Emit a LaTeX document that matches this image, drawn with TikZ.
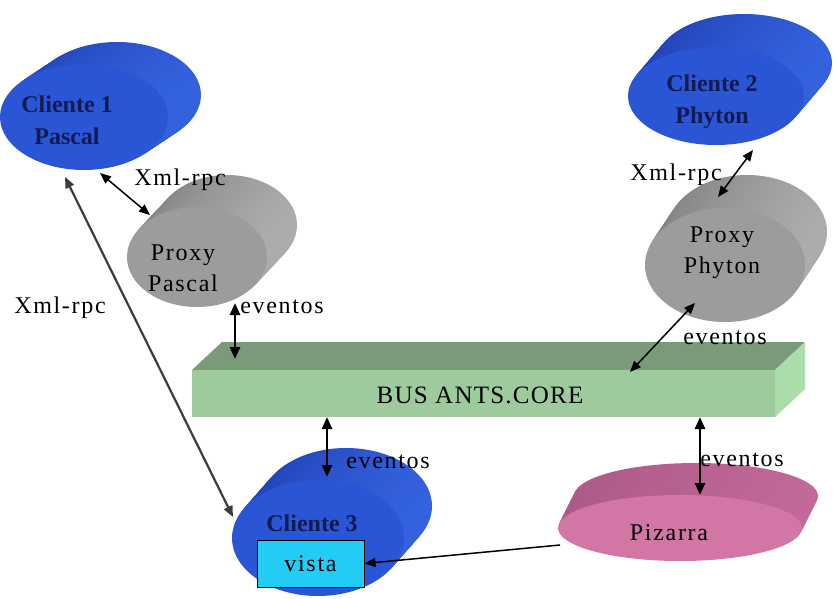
\documentclass[tikz,border=0pt]{standalone}
\usepackage{fontspec}
\setmainfont{Liberation Serif}
\usetikzlibrary{arrows.meta}

\definecolor{bluefront}{HTML}{2A56D6}
\definecolor{blueside}{HTML}{2242B6}
\definecolor{bluelight}{HTML}{3462DE}
\definecolor{grayfront}{HTML}{9C9C9C}
\definecolor{grayside}{HTML}{828282}
\definecolor{graylight}{HTML}{ADADAD}
\definecolor{pinkfront}{HTML}{D276A6}
\definecolor{pinkside}{HTML}{AD5A86}
\definecolor{pinklight}{HTML}{C2699A}
\definecolor{bustop}{HTML}{7A9A7A}
\definecolor{busfront}{HTML}{9DCB9D}
\definecolor{busright}{HTML}{ABDDAB}
\definecolor{vistafill}{HTML}{22CCF5}
\definecolor{navy}{HTML}{121A52}
\definecolor{linkgray}{HTML}{3C3C3C}

% extruded ellipse: centre x, centre y, x radius, y radius, depth dx, depth dy,
% side colour (left), side colour (right), face colour
\newcommand\slab[9]{%
  \foreach \k in {20,19,...,1}{
    \shade[left color=#7, right color=#8]
      ({#1+#5*\k/20},{#2+#6*\k/20}) ellipse [x radius=#3, y radius=#4];
  }
  \fill[#9] (#1,#2) ellipse [x radius=#3, y radius=#4];
}

\begin{document}
\begin{tikzpicture}[x=1pt, y=-1pt,
  link/.style={{Triangle[length=11pt, width=9pt]}-{Triangle[length=11pt, width=9pt]}, line width=1.5pt},
  buslink/.style={{Triangle[length=12pt, width=10pt]}-{Triangle[length=12pt, width=10pt]}, line width=2.6pt},
  lbl/.style={font=\fontsize{24}{31}\selectfont\addfontfeature{LetterSpace=7}, inner sep=0pt, align=center},
  title/.style={font=\fontsize{24}{32}\selectfont\bfseries, text=navy, inner sep=0pt, align=center}]

\useasboundingbox (0,0) rectangle (837,599);
\fill[white] (0,0) rectangle (837,599);

% clients, proxies and the blackboard
\slab{84}{117}{84}{53}{33}{-22}{blueside}{bluelight}{bluefront}
\slab{716}{96}{88}{49}{28}{-33}{blueside}{bluelight}{bluefront}
\slab{197}{257}{70}{50}{30}{-32}{grayside}{graylight}{grayfront}
\slab{725}{265}{80}{57}{22}{-33}{grayside}{graylight}{grayfront}
\slab{318}{538}{86}{58}{28}{-32}{blueside}{bluelight}{bluefront}
\slab{680}{528}{122}{33}{16}{-32}{pinkside}{pinklight}{pinkfront}

% the bus bar
\fill[bustop] (192,370) -- (222,342) -- (805,342) -- (775,370) -- cycle;
\fill[busright] (775,370) -- (805,342) -- (805,389) -- (775,417) -- cycle;
\fill[busfront] (192,370) rectangle (775,417);

% texts
\node[title] (c1) at (67,120) {Cliente 1\\Pascal};
\node[title] (c2) at (712,102) {Cliente 2\\Phyton};
\node[title] (c3) at (312,523) {Cliente 3};
\node[lbl] (pp) at (183,268) {Proxy\\Pascal};
\node[lbl] (pf) at (722,253) {Proxy\\Phyton};
\node[lbl] (pz) at (669,533) {Pizarra};
\node[font=\fontsize{25}{28}\selectfont\addfontfeature{LetterSpace=5}, inner sep=0pt] (bus) at (480,395) {BUS ANTS.CORE};
\node[draw=black, line width=1pt, fill=vistafill, minimum width=107pt, minimum height=47pt,
      lbl] (vista) at (310.5,563.5) {vista};

% connector end points
\coordinate (c1a) at (100,173);
\coordinate (ppa) at (150,215);
\coordinate (c1b) at (65,177);
\coordinate (c3a) at (233,517);
\coordinate (ppb) at (235,303);
\coordinate (busa) at (235,359);
\coordinate (pfb) at (695,303);
\coordinate (busb) at (630,372);
\coordinate (c2a) at (753,150);
\coordinate (pfa) at (718,197);
\coordinate (busc) at (327,417);
\coordinate (c3b) at (327,477);
\coordinate (busd) at (700,417);
\coordinate (pza) at (700,495);
\coordinate (pzb) at (560,545);

% connectors
\draw[link] (c1a) -- (ppa);
\draw[link, linkgray, line width=2.2pt] (c1b) -- (c3a);
\draw[buslink] (ppb) -- (busa);
\draw[link] (pfb) -- (busb);
\draw[link] (c2a) -- (pfa);
\draw[buslink] (busc) -- (c3b);
\draw[buslink] (busd) -- (pza);
\draw[-{Triangle[length=11pt, width=9pt]}, line width=1.5pt] (pzb) -- (vista.east);

% connector labels
\node[lbl] (x1) at (180,180) {Xml-rpc};
\node[lbl] (x2) at (60,308) {Xml-rpc};
\node[lbl] (x3) at (676,175) {Xml-rpc};
\node[lbl] (e1) at (282,307) {eventos};
\node[lbl] (e2) at (725,338) {eventos};
\node[lbl] (e3) at (388,462) {eventos};
\node[lbl] (e4) at (742,460) {eventos};
\end{tikzpicture}
\end{document}
